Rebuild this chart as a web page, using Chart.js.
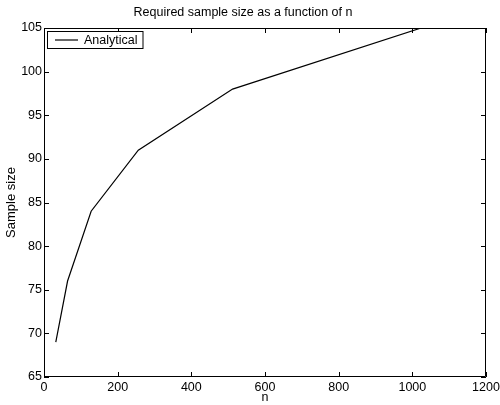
<!DOCTYPE html>
<html>
<head>
<meta charset="utf-8">
<script src="https://cdn.jsdelivr.net/npm/chart.js@4/dist/chart.umd.min.js"></script>
<style>
  html, body { margin: 0; padding: 0; background: #fff; }
  #grafico { display: block; }
</style>
</head>
<body>
<canvas id="grafico" width="500" height="405"></canvas>
<script>
// Dados
const valoresN = [32, 64, 128, 256, 512, 1024];
const tamanhoAmostra = [69, 76, 84, 91, 98, 105];
const rotuloSerie = 'Analytical';
const tituloGrafico = 'Required sample size as a function of n';
const tituloX = 'n';
const tituloY = 'Sample size';

const fonte = 'Liberation Sans, Arial, Helvetica, sans-serif';

// Caixa estilo MATLAB: moldura + marcas de escala para dentro em todos os lados
const pluginMoldura = {
    id: 'moldura',
    afterDraw(chart) {
        const { ctx, chartArea: a, scales } = chart;
        const tam = 5;
        ctx.save();
        ctx.strokeStyle = '#000';
        ctx.lineWidth = 1;
        ctx.beginPath();
        ctx.rect(Math.round(a.left) + 0.5, Math.round(a.top) + 0.5,
                 Math.round(a.right - a.left) - 1, Math.round(a.bottom - a.top) - 1);
        scales.x.ticks.forEach(t => {
            const px = Math.round(scales.x.getPixelForValue(t.value)) + 0.5;
            ctx.moveTo(px, a.bottom); ctx.lineTo(px, a.bottom - tam);
            ctx.moveTo(px, a.top); ctx.lineTo(px, a.top + tam);
        });
        scales.y.ticks.forEach(t => {
            const py = Math.round(scales.y.getPixelForValue(t.value)) + 0.5;
            ctx.moveTo(a.left, py); ctx.lineTo(a.left + tam, py);
            ctx.moveTo(a.right, py); ctx.lineTo(a.right - tam, py);
        });
        ctx.stroke();

        // legenda dentro do gráfico, canto superior esquerdo
        ctx.font = '12.5px ' + fonte;
        const larg = ctx.measureText(rotuloSerie).width;
        const x0 = Math.round(a.left) + 3, y0 = Math.round(a.top) + 3;
        const w = 36 + larg + 6, h = 17;
        ctx.fillStyle = '#fff';
        ctx.fillRect(x0, y0, w, h);
        ctx.strokeRect(x0 + 0.5, y0 + 0.5, w, h);
        ctx.beginPath();
        ctx.lineWidth = 1.2;
        ctx.moveTo(x0 + 8, y0 + h / 2 + 0.5);
        ctx.lineTo(x0 + 31, y0 + h / 2 + 0.5);
        ctx.stroke();
        ctx.fillStyle = '#000';
        ctx.textBaseline = 'middle';
        ctx.fillText(rotuloSerie, x0 + 37, y0 + h / 2 + 1);
        ctx.restore();
    }
};

new Chart(document.getElementById('grafico').getContext('2d'), {
    type: 'scatter',
    data: {
        datasets: [{
            label: rotuloSerie,
            data: valoresN.map((n, i) => ({ x: n, y: tamanhoAmostra[i] })),
            showLine: true,
            borderColor: '#000',
            borderWidth: 1.2,
            pointRadius: 0,
            tension: 0,
            fill: false
        }]
    },
    options: {
        responsive: false,
        animation: false,
        layout: { padding: { left: 0, right: 14, top: 0, bottom: 0 } },
        plugins: {
            legend: { display: false },
            tooltip: { enabled: false },
            title: {
                display: true,
                text: tituloGrafico,
                color: '#000',
                font: { family: fonte, size: 12.5, weight: 'normal' },
                padding: { top: 5, bottom: 8 }
            }
        },
        scales: {
            x: {
                type: 'linear',
                min: 0, max: 1200,
                grid: { display: false, drawTicks: false },
                border: { display: false },
                ticks: {
                    stepSize: 200,
                    color: '#000',
                    padding: 3,
                    maxRotation: 0,
                    font: { family: fonte, size: 12.5 },
                    callback: v => String(v)
                },
                title: {
                    display: true,
                    text: tituloX,
                    color: '#000',
                    padding: 0,
                    font: { family: fonte, size: 12.5 }
                },
                afterFit(s) { s.height = 28; s.paddingLeft = 0; s.paddingRight = 0; }
            },
            y: {
                type: 'linear',
                min: 65, max: 105,
                grid: { display: false, drawTicks: false },
                border: { display: false },
                ticks: {
                    stepSize: 5,
                    color: '#000',
                    padding: 2,
                    font: { family: fonte, size: 12.5 },
                    callback: v => String(v)
                },
                title: {
                    display: true,
                    text: tituloY,
                    color: '#000',
                    padding: { top: 4, bottom: 0 },
                    font: { family: fonte, size: 13 }
                },
                afterFit(s) { s.width = 44; s.paddingTop = 0; s.paddingBottom = 0; }
            }
        }
    },
    plugins: [pluginMoldura]
});
</script>
</body>
</html>
